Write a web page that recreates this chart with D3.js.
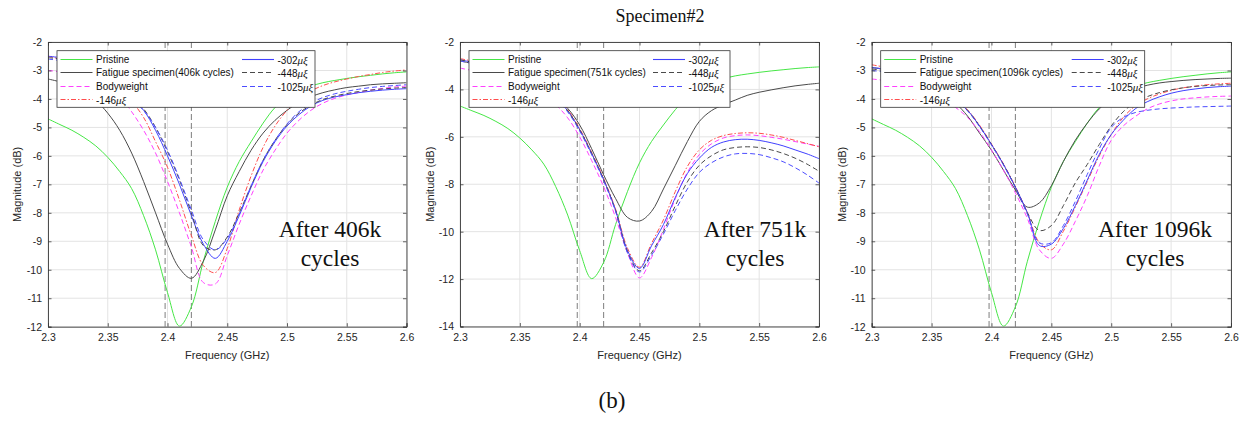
<!DOCTYPE html>
<html><head><meta charset="utf-8">
<script src="https://cdn.jsdelivr.net/npm/d3@7"></script>
<style>body{margin:0;background:#fff}svg{display:block}</style>
</head><body>
<svg id="c" width="1241" height="422"></svg>
<script>
// ---------- DATA ----------
const freq = [2.30,2.31,2.32,2.33,2.34,2.35,2.36,2.37,2.38,2.39,2.40,2.41,2.42,2.43,2.44,2.45,2.46,2.47,2.48,2.49,2.50,2.51,2.52,2.53,2.54,2.55,2.56,2.57,2.58,2.59,2.60];
const xTicks = [2.3,2.35,2.4,2.45,2.5,2.55,2.6];
const yTicks12 = [-12,-11,-10,-9,-8,-7,-6,-5,-4,-3,-2];
const yTicks14 = [-14,-12,-10,-8,-6,-4,-2];
const refLines = [2.398, 2.42];
const seriesNames = ["Pristine","Fatigue specimen","Bodyweight","-146","-302","-448","-1025"];
const panelTitles = ["After 406k","After 751k","After 1096k"];
const panelCycles = ["406k","751k","1096k"];

const pristine = [-4.70,-4.90,-5.10,-5.35,-5.65,-6.05,-6.55,-7.15,-8.10,-9.30,-10.80,-11.98,-11.30,-9.70,-8.30,-7.10,-6.20,-5.50,-4.85,-4.30,-3.95,-3.72,-3.55,-3.43,-3.35,-3.28,-3.22,-3.17,-3.12,-3.08,-3.05];

const fatigue406 = [-3.30,-3.40,-3.55,-3.75,-4.05,-4.50,-5.10,-5.90,-6.90,-8.00,-9.10,-9.95,-10.30,-9.70,-8.60,-7.40,-6.55,-5.80,-5.20,-4.75,-4.40,-4.12,-3.92,-3.78,-3.68,-3.60,-3.55,-3.50,-3.47,-3.45,-3.43];
const body406 = [-3.00,-3.05,-3.15,-3.25,-3.40,-3.60,-3.90,-4.45,-5.10,-5.90,-6.90,-8.00,-9.20,-10.45,-10.50,-9.50,-8.40,-7.40,-6.50,-5.80,-5.20,-4.75,-4.40,-4.15,-3.98,-3.86,-3.77,-3.69,-3.63,-3.58,-3.55];
const s146_406 = [-2.50,-2.60,-2.75,-2.95,-3.20,-3.50,-3.80,-4.10,-4.65,-5.50,-6.40,-7.55,-8.80,-9.85,-10.10,-9.25,-7.90,-6.70,-5.70,-4.95,-4.40,-4.00,-3.72,-3.53,-3.40,-3.30,-3.21,-3.14,-3.07,-3.02,-2.98];
const s302_406 = [-2.50,-2.55,-2.65,-2.80,-3.00,-3.25,-3.60,-4.00,-4.40,-5.10,-6.00,-7.00,-8.10,-9.10,-9.60,-9.00,-8.10,-7.10,-6.20,-5.50,-4.95,-4.55,-4.25,-4.05,-3.93,-3.85,-3.78,-3.73,-3.69,-3.66,-3.64];
const s448_406 = [-2.55,-2.60,-2.70,-2.85,-3.05,-3.30,-3.60,-3.95,-4.35,-5.00,-5.85,-6.85,-8.00,-9.15,-9.30,-8.85,-8.00,-7.05,-6.15,-5.45,-4.90,-4.50,-4.22,-4.02,-3.90,-3.81,-3.74,-3.69,-3.65,-3.62,-3.60];
const s1025_406 = [-2.60,-2.65,-2.75,-2.90,-3.10,-3.35,-3.65,-4.00,-4.40,-5.00,-5.80,-6.80,-7.90,-8.95,-9.30,-8.90,-8.05,-7.05,-6.15,-5.45,-4.88,-4.45,-4.15,-3.95,-3.82,-3.73,-3.66,-3.60,-3.56,-3.53,-3.50];

const fatigue751 = [-2.80,-2.90,-3.00,-3.10,-3.25,-3.45,-3.70,-4.00,-4.35,-4.80,-5.50,-6.50,-7.60,-8.60,-9.40,-9.55,-9.15,-8.20,-7.20,-6.20,-5.35,-4.90,-4.65,-4.45,-4.25,-4.12,-4.02,-3.93,-3.85,-3.79,-3.74];
const body751 = [-3.10,-3.20,-3.30,-3.40,-3.55,-3.75,-4.00,-4.30,-4.65,-5.20,-6.00,-7.00,-8.10,-9.40,-10.90,-11.95,-11.10,-9.90,-8.60,-7.50,-6.75,-6.30,-6.05,-5.95,-5.92,-5.95,-6.02,-6.10,-6.20,-6.30,-6.40];
const s146_751 = [-2.70,-2.80,-2.90,-3.00,-3.15,-3.35,-3.60,-3.90,-4.30,-4.85,-5.65,-6.65,-7.75,-9.05,-10.70,-11.50,-10.50,-9.50,-8.30,-7.25,-6.55,-6.15,-5.95,-5.86,-5.83,-5.85,-5.92,-6.02,-6.15,-6.28,-6.42];
const s302_751 = [-2.75,-2.85,-2.95,-3.05,-3.20,-3.40,-3.65,-3.95,-4.35,-4.90,-5.70,-6.70,-7.80,-9.10,-10.80,-11.55,-10.60,-9.70,-8.55,-7.55,-6.90,-6.45,-6.22,-6.12,-6.10,-6.15,-6.25,-6.38,-6.55,-6.72,-6.92];
const s448_751 = [-2.75,-2.85,-2.95,-3.05,-3.20,-3.40,-3.65,-3.95,-4.35,-4.90,-5.70,-6.70,-7.80,-9.10,-10.85,-11.65,-10.90,-10.00,-8.90,-7.90,-7.20,-6.80,-6.55,-6.45,-6.42,-6.45,-6.55,-6.70,-6.90,-7.15,-7.45];
const s1025_751 = [-2.80,-2.90,-3.00,-3.10,-3.25,-3.45,-3.70,-4.00,-4.40,-4.95,-5.75,-6.75,-7.85,-9.15,-10.90,-11.70,-11.00,-10.10,-9.10,-8.20,-7.50,-7.10,-6.85,-6.72,-6.70,-6.75,-6.88,-7.05,-7.30,-7.60,-7.95];

const fatigue1096 = [-2.90,-2.95,-3.05,-3.20,-3.40,-3.60,-3.85,-4.15,-4.60,-5.20,-5.80,-6.50,-7.20,-7.80,-7.65,-7.05,-6.20,-5.45,-4.85,-4.35,-4.00,-3.78,-3.63,-3.52,-3.44,-3.39,-3.35,-3.32,-3.30,-3.28,-3.27];
const body1096 = [-3.30,-3.35,-3.45,-3.55,-3.70,-3.85,-4.05,-4.30,-4.65,-5.15,-5.80,-6.50,-7.30,-8.20,-9.30,-9.60,-9.10,-8.30,-7.40,-6.35,-5.45,-4.95,-4.62,-4.35,-4.18,-4.07,-4.00,-3.96,-3.93,-3.91,-3.90];
const s146_1096 = [-2.80,-2.88,-3.00,-3.15,-3.32,-3.52,-3.76,-4.02,-4.38,-4.92,-5.58,-6.28,-7.08,-8.00,-9.05,-9.30,-8.65,-7.80,-6.90,-6.00,-5.25,-4.65,-4.25,-4.00,-3.83,-3.70,-3.61,-3.55,-3.50,-3.47,-3.45];
const s302_1096 = [-2.90,-2.95,-3.05,-3.20,-3.35,-3.55,-3.80,-4.05,-4.40,-4.95,-5.60,-6.30,-7.10,-8.00,-9.15,-9.10,-8.55,-7.75,-6.85,-5.95,-5.25,-4.75,-4.35,-4.10,-3.93,-3.80,-3.71,-3.65,-3.60,-3.57,-3.55];
const s448_1096 = [-2.95,-3.00,-3.10,-3.22,-3.37,-3.57,-3.80,-4.05,-4.40,-4.95,-5.60,-6.30,-7.10,-8.00,-8.62,-8.45,-7.75,-6.95,-6.30,-5.60,-4.95,-4.45,-4.12,-3.92,-3.78,-3.68,-3.61,-3.56,-3.53,-3.51,-3.50];
const s1025_1096 = [-3.00,-3.05,-3.13,-3.25,-3.40,-3.58,-3.82,-4.07,-4.42,-4.97,-5.62,-6.32,-7.12,-8.05,-9.05,-9.05,-8.45,-7.60,-6.65,-5.75,-5.00,-4.65,-4.48,-4.40,-4.35,-4.32,-4.30,-4.28,-4.27,-4.26,-4.25];

// ---------- STYLE ----------
const styles = [
  {color:"#46e646", dash:null},
  {color:"#4a4a4a", dash:null},
  {color:"#ff40ff", dash:"5,3"},
  {color:"#ff4d4d", dash:"5,2,1.5,2"},
  {color:"#4040ff", dash:null},
  {color:"#4a4a4a", dash:"5,3"},
  {color:"#4c4cff", dash:"5,3"}
];

const panels = [
  {x0:48, x1:406.5, y0:42, y1:326.7, yDom:[-12,-2], yTicks:yTicks12,
   series:[pristine,fatigue406,body406,s146_406,s302_406,s448_406,s1025_406],
   leg:{x:57, w:258, c2:185}, ann:330, ylab:17},
  {x0:460, x1:819, y0:42, y1:326.5, yDom:[-14,-2], yTicks:yTicks14,
   series:[pristine,fatigue751,body751,s146_751,s302_751,s448_751,s1025_751],
   leg:{x:469, w:261, c2:184}, ann:755, ylab:430},
  {x0:871.7, x1:1231, y0:42, y1:326.7, yDom:[-12,-2], yTicks:yTicks12,
   series:[pristine,fatigue1096,body1096,s146_1096,s302_1096,s448_1096,s1025_1096],
   leg:{x:880.7, w:264, c2:191}, ann:1155, ylab:842}
];

const svg = d3.select("#c");
const sans = "Liberation Sans, Arial, sans-serif";
const serif = "Liberation Serif, Times New Roman, serif";
const axisColor = "#262626";

svg.append("text").attr("x",660).attr("y",22).attr("text-anchor","middle")
  .attr("font-family",serif).attr("font-size",18).attr("fill","#111").text("Specimen#2");
svg.append("text").attr("x",612).attr("y",408).attr("text-anchor","middle")
  .attr("font-family",serif).attr("font-size",23).attr("fill","#111").text("(b)");

panels.forEach((p, pi) => {
  const x = d3.scaleLinear().domain([2.3,2.6]).range([p.x0,p.x1]);
  const y = d3.scaleLinear().domain(p.yDom).range([p.y1,p.y0]);
  const g = svg.append("g");
  const clipId = "clip"+pi;
  svg.append("clipPath").attr("id",clipId).append("rect")
    .attr("x",p.x0).attr("y",p.y0).attr("width",p.x1-p.x0).attr("height",p.y1-p.y0);

  // grid
  g.append("g").selectAll("line").data(xTicks).join("line")
    .attr("x1",d=>x(d)).attr("x2",d=>x(d)).attr("y1",p.y0).attr("y2",p.y1)
    .attr("stroke","#e3e3e3").attr("stroke-width",1);
  g.append("g").selectAll("line").data(p.yTicks).join("line")
    .attr("x1",p.x0).attr("x2",p.x1).attr("y1",d=>y(d)).attr("y2",d=>y(d))
    .attr("stroke","#e3e3e3").attr("stroke-width",1);

  // reference dashed lines
  g.append("g").selectAll("line").data(refLines).join("line")
    .attr("x1",d=>x(d)).attr("x2",d=>x(d)).attr("y1",p.y0).attr("y2",p.y1)
    .attr("stroke","#8a8a8a").attr("stroke-width",1.1).attr("stroke-dasharray","6,3");

  // curves
  const line = d3.line().x((d,i)=>x(freq[i])).y(d=>y(d)).curve(d3.curveCatmullRom.alpha(0.5));
  const cg = g.append("g").attr("clip-path",`url(#${clipId})`);
  p.series.forEach((s, si) => {
    cg.append("path").attr("d", line(s)).attr("fill","none")
      .attr("stroke", styles[si].color).attr("stroke-width",1)
      .attr("stroke-dasharray", styles[si].dash);
  });

  // axes
  const ax = g.append("g").attr("font-family",sans).attr("font-size",10.5).attr("fill",axisColor);
  const xb = d3.axisBottom(x).tickValues(xTicks).tickSize(-3.5).tickPadding(7).tickFormat(d=>String(+d.toFixed(2)));
  const xt = d3.axisTop(x).tickValues(xTicks).tickSize(-3.5).tickFormat("");
  const yl = d3.axisLeft(y).tickValues(p.yTicks).tickSize(-3.5).tickPadding(6).tickFormat(d=>String(d));
  const yr = d3.axisRight(y).tickValues(p.yTicks).tickSize(-3.5).tickFormat("");
  [[xb,`translate(0,${p.y1})`],[xt,`translate(0,${p.y0})`],[yl,`translate(${p.x0},0)`],[yr,`translate(${p.x1},0)`]].forEach(([a,t])=>{
    const ag = ax.append("g").attr("transform",t).call(a);
    ag.selectAll("path.domain").attr("stroke","#3a3a3a").attr("stroke-width",0.9);
    ag.selectAll(".tick line").attr("stroke","#3a3a3a").attr("stroke-width",0.8);
    ag.selectAll("text").attr("fill",axisColor).attr("font-family",sans).attr("font-size",10.5);
  });

  g.append("text").attr("x",(p.x0+p.x1)/2).attr("y",359).attr("text-anchor","middle")
    .attr("font-family",sans).attr("font-size",11).attr("fill",axisColor).text("Frequency (GHz)");
  g.append("text").attr("transform",`translate(${p.ylab},${(p.y0+p.y1)/2}) rotate(-90)`)
    .attr("text-anchor","middle").attr("dominant-baseline","central")
    .attr("font-family",sans).attr("font-size",11).attr("fill",axisColor).text("Magnitude (dB)");

  // annotation
  g.append("text").attr("x",p.ann).attr("y",237).attr("text-anchor","middle")
    .attr("font-family",serif).attr("font-size",23.5).attr("fill","#111").text(panelTitles[pi]);
  g.append("text").attr("x",p.ann).attr("y",266).attr("text-anchor","middle")
    .attr("font-family",serif).attr("font-size",23.5).attr("fill","#111").text("cycles");

  // legend
  const L = p.leg;
  const lg = g.append("g");
  lg.append("rect").attr("x",L.x).attr("y",50.7).attr("width",L.w).attr("height",56.6)
    .attr("fill","#fff").attr("stroke","#333").attr("stroke-width",0.8);
  const rows = [59.5,72.5,86.5,99.5];
  const items = seriesNames.map((n,i)=>({i, n, col: i<4 ? 0 : 1, row: i<4 ? i : i-4}));
  items.forEach(it=>{
    const lx = L.x + (it.col===0 ? 3.5 : L.c2);
    const ly = rows[it.row];
    lg.append("line").attr("x1",lx).attr("x2",lx+32).attr("y1",ly).attr("y2",ly)
      .attr("stroke",styles[it.i].color).attr("stroke-width",1.1).attr("stroke-dasharray",styles[it.i].dash);
    const t = lg.append("text").attr("x",lx+35.5).attr("y",ly).attr("dominant-baseline","central")
      .attr("font-family",sans).attr("font-size",10).attr("fill","#111");
    if (it.i===1) t.text(`${it.n}(${panelCycles[pi]} cycles)`);
    else if (it.i>=3) {
      t.append("tspan").text(it.n);
      t.append("tspan").attr("font-family",serif).attr("font-style","italic").attr("font-size",11).text("μξ");
    } else t.text(it.n);
  });
});
</script>
</body></html>
